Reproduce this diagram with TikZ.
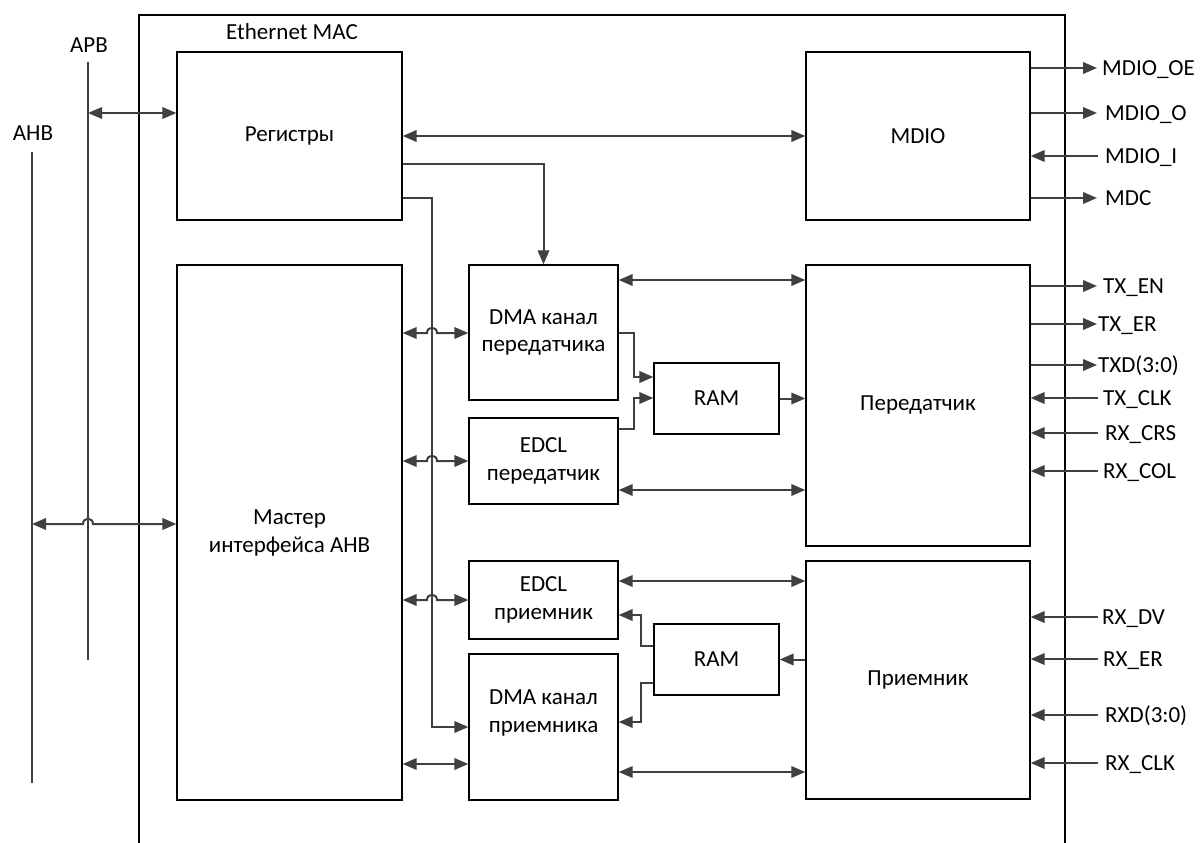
\documentclass[tikz,border=0pt]{standalone}
\usepackage{fontspec}
\setmainfont{Carlito}
\usetikzlibrary{arrows.meta,calc}
\begin{document}
\begin{tikzpicture}[x=1pt,y=-1pt,
  font=\fontsize{23pt}{27.6pt}\selectfont,
  box/.style={draw=black,line width=1.3pt,inner sep=0pt,align=center,fill=none},
  txt/.style={inner sep=0pt,align=center},
  conn/.style={draw=lgray,line width=2pt},
  arr/.style={conn,-{Triangle[length=14pt,width=11.5pt]}},
  bi/.style={conn,{Triangle[length=14pt,width=11.5pt]}-{Triangle[length=14pt,width=11.5pt]}},
  sig/.style={inner sep=0pt,anchor=west,text height=15pt,text depth=0pt},
  bus/.style={draw=lgray,line width=2pt}
]
\definecolor{lgray}{HTML}{404040}
\useasboundingbox (0,0) rectangle (1200,843);
\fill[white] (0,0) rectangle (1200,843);

% outer Ethernet MAC frame
\draw[line width=1.3pt] (139,843) -- (139,15) -- (1065,15) -- (1065,843);
\node[txt] (mac) at (292,32) {Ethernet MAC};

% buses
\node[txt] (apbl) at (89,45) {APB};
\node[txt] (ahbl) at (33,133) {AHB};
\coordinate (apbT) at (88,62);
\coordinate (apbB) at (88,660);
\coordinate (ahbT) at (32,152);
\coordinate (ahbB) at (32,783);
\draw[bus] (apbT) -- (apbB);
\draw[bus] (ahbT) -- (ahbB);

% boxes
\node[box,minimum width=225pt,minimum height=168pt] (regs) at (289.5,136) {Регистры};
\node[box,minimum width=224pt,minimum height=168pt] (mdio) at (918,136) {MDIO};
\node[box,minimum width=225pt,minimum height=535pt] (master) at (289.5,532.5) {};
\node[txt] (mastert) at (289.5,533) {Мастер\\интерфейса AHB};
\node[box,minimum width=149pt,minimum height=135pt] (dmatx) at (543.5,332.5) {DMA канал\\передатчика};
\node[box,minimum width=149pt,minimum height=86pt] (edcltx) at (543.5,461) {EDCL\\передатчик};
\node[box,minimum width=125pt,minimum height=71pt] (ramtx) at (716.5,398.5) {RAM};
\node[box,minimum width=224pt,minimum height=281pt] (tx) at (918,405.5) {Передатчик};
\node[box,minimum width=149pt,minimum height=78pt] (edclrx) at (543.5,600) {EDCL\\приемник};
\node[box,minimum width=149pt,minimum height=146pt] (dmarx) at (543.5,727) {};
\node[txt] (dmarxt) at (543.5,713) {DMA канал\\приемника};
\node[box,minimum width=125pt,minimum height=71pt] (ramrx) at (716.5,659.5) {RAM};
\node[box,minimum width=224pt,minimum height=238pt] (rx) at (918,680) {Приемник};

% bus connections
\draw[bi] (apbT |- 0,113) -- (regs.west |- 0,113);
\draw[bi] (ahbT |- 0,524) -- (83,524) .. controls (83,517) and (93,517) .. (93,524) -- (master.west |- 0,524);

% registers
\draw[bi] (regs.east) -- (mdio.west);
\draw[arr] (regs.east |- 0,164) -| (dmatx.north);
\draw[arr] (regs.east |- 0,198) -- (432,198) -- (432,727) -- (dmarx.west |- 0,727);

% master to channels
\draw[bi] (master.east |- 0,333) -- (427,333) .. controls (427,326) and (437,326) .. (437,333) -- (dmatx.west |- 0,333);
\draw[bi] (master.east |- 0,461) -- (427,461) .. controls (427,454) and (437,454) .. (437,461) -- (edcltx.west |- 0,461);
\draw[bi] (master.east |- 0,600) -- (427,600) .. controls (427,593) and (437,593) .. (437,600) -- (edclrx.west |- 0,600);
\draw[bi] (master.east |- 0,764) -- (dmarx.west |- 0,764);

% channels to MAC sides
\draw[bi] (dmatx.east |- 0,280) -- (tx.west |- 0,280);
\draw[bi] (edcltx.east |- 0,490) -- (tx.west |- 0,490);
\draw[bi] (edclrx.east |- 0,581) -- (rx.west |- 0,581);
\draw[bi] (dmarx.east |- 0,772) -- (rx.west |- 0,772);

% TX RAM
\draw[arr] (dmatx.east |- 0,333) -- (634,333) |- (ramtx.west |- 0,377);
\draw[arr] (edcltx.east |- 0,429) -- (634,429) |- (ramtx.west |- 0,398);
\draw[arr] (ramtx.east) -- (tx.west |- ramtx.east);

% RX RAM
\draw[arr] (rx.west |- ramrx.east) -- (ramrx.east);
\draw[arr] (ramrx.west |- 0,646) -- (641,646) |- (edclrx.east |- 0,615);
\draw[arr] (ramrx.west |- 0,683) -- (641,683) |- (dmarx.east |- 0,722);

% MDIO signals
\node[sig] (lOE) at (1102,68) {MDIO\_OE};
\node[sig] (lO) at (1105,113) {MDIO\_O};
\node[sig] (lI) at (1105,156) {MDIO\_I};
\node[sig] (lMDC) at (1105,198) {MDC};
\draw[arr] (mdio.east |- lOE.west) -- ($(lOE.west)+(-5,0)$);
\draw[arr] (mdio.east |- lO.west) -- ($(lO.west)+(-8,0)$);
\draw[arr] ($(lI.west)+(-7,0)$) -- (mdio.east |- lI.west);
\draw[arr] (mdio.east |- lMDC.west) -- ($(lMDC.west)+(-8,0)$);

% TX signals
\node[sig] (lTXEN) at (1103,286) {TX\_EN};
\node[sig] (lTXER) at (1098,324) {TX\_ER};
\node[sig] (lTXD) at (1098,365) {TXD(3:0)};
\node[sig] (lTXCLK) at (1103,398) {TX\_CLK};
\node[sig] (lCRS) at (1105,433) {RX\_CRS};
\node[sig] (lCOL) at (1103,471) {RX\_COL};
\draw[arr] (tx.east |- lTXEN.west) -- ($(lTXEN.west)+(-6,0)$);
\draw[arr] (tx.east |- lTXER.west) -- ($(lTXER.west)+(-1,0)$);
\draw[arr] (tx.east |- lTXD.west) -- ($(lTXD.west)+(-1,0)$);
\draw[arr] ($(lTXCLK.west)+(-5,0)$) -- (tx.east |- lTXCLK.west);
\draw[arr] ($(lCRS.west)+(-7,0)$) -- (tx.east |- lCRS.west);
\draw[arr] ($(lCOL.west)+(-5,0)$) -- (tx.east |- lCOL.west);

% RX signals
\node[sig] (lDV) at (1102,617) {RX\_DV};
\node[sig] (lRXER) at (1103,659) {RX\_ER};
\node[sig] (lRXD) at (1105,715) {RXD(3:0)};
\node[sig] (lRXCLK) at (1105,763) {RX\_CLK};
\draw[arr] ($(lDV.west)+(-4,0)$) -- (rx.east |- lDV.west);
\draw[arr] ($(lRXER.west)+(-5,0)$) -- (rx.east |- lRXER.west);
\draw[arr] ($(lRXD.west)+(-7,0)$) -- (rx.east |- lRXD.west);
\draw[arr] ($(lRXCLK.west)+(-7,0)$) -- (rx.east |- lRXCLK.west);
\end{tikzpicture}
\end{document}
